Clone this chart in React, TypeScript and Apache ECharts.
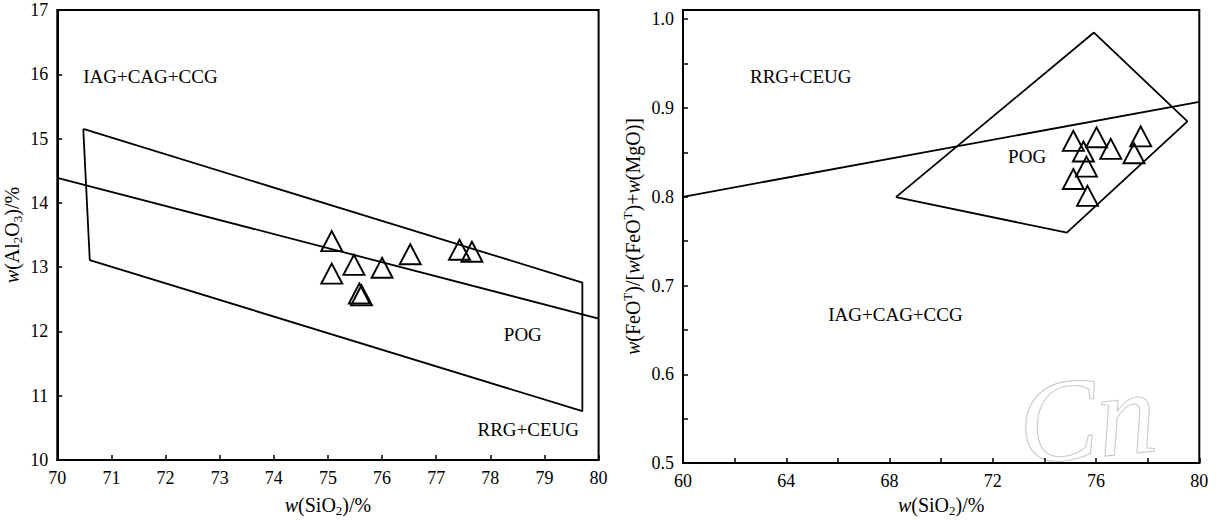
import React, { useEffect, useRef } from "react";
import * as echarts from "echarts";

// ---- Left diagram: Al2O3 vs SiO2 ----
const leftSiO2 = [75.07, 75.07, 75.48, 76.0, 75.58, 75.62, 76.52, 77.43, 77.66];
const leftAl2O3 = [13.405, 12.9, 13.035, 12.99, 12.59, 12.56, 13.2, 13.27, 13.24];
const leftPolyX = [70.48, 70.6, 79.7, 79.7, 70.48];
const leftPolyY = [15.15, 13.11, 10.76, 12.76, 15.15];
const leftLineX = [70, 80];
const leftLineY = [14.39, 12.2];
const leftLabelText = ["IAG+CAG+CCG", "POG", "RRG+CEUG"];
const leftLabelX = [71.72, 78.6, 78.7];
const leftLabelY = [15.96, 11.96, 10.47];

// ---- Right diagram: FeOT/(FeOT+MgO) vs SiO2 ----
const rightSiO2 = [75.12, 76.02, 76.57, 77.73, 77.47, 75.51, 75.63, 75.12, 75.67];
const rightRatio = [0.863, 0.867, 0.854, 0.868, 0.849, 0.851, 0.834, 0.82, 0.801];
const rightPolyX = [68.25, 75.92, 79.54, 74.87, 68.25];
const rightPolyY = [0.7996, 0.985, 0.885, 0.7596, 0.7996];
const rightLineX = [60, 80];
const rightLineY = [0.8, 0.907];
const rightLabelText = ["RRG+CEUG", "POG", "IAG+CAG+CCG"];
const rightLabelX = [64.56, 73.33, 68.23];
const rightLabelY = [0.9355, 0.845, 0.667];

const FONT = "Liberation Serif";
const zip = (xs: number[], ys: number[]) => xs.map((x, i) => [x, ys[i]]);

const richName = {
  i: { fontStyle: "italic", fontSize: 20, fontFamily: FONT, color: "#000", lineHeight: 24 },
  n: { fontSize: 20, fontFamily: FONT, color: "#000", lineHeight: 24 },
  sub: { fontSize: 13, fontFamily: FONT, color: "#000", lineHeight: 10, verticalAlign: "bottom" },
  sup: { fontSize: 13, fontFamily: FONT, color: "#000", lineHeight: 10, verticalAlign: "top" },
};

export default function App() {
  const ref = useRef<HTMLDivElement>(null);
  useEffect(() => {
    if (!ref.current) return;
    const chart = echarts.init(ref.current, undefined, { renderer: "svg" });
    const axisCommon = {
      axisLine: { show: true, onZero: false, lineStyle: { color: "#000", width: 2 } },
      axisTick: { show: true, inside: true, length: 5, lineStyle: { color: "#000", width: 1.5 } },
      splitLine: { show: false },
      axisLabel: { color: "#000", fontSize: 18, fontFamily: FONT },
      nameLocation: "middle",
      nameTextStyle: { rich: richName, fontFamily: FONT, fontSize: 20, color: "#000" },
    };
    const lineSeries = (xi: number, data: number[][]) => ({
      type: "line",
      xAxisIndex: xi,
      yAxisIndex: xi,
      data,
      showSymbol: false,
      symbol: "none",
      lineStyle: { color: "#000", width: 1.8 },
      silent: true,
    });
    const triSeries = (xi: number, data: number[][]) => ({
      type: "scatter",
      xAxisIndex: xi,
      yAxisIndex: xi,
      data,
      symbol: "triangle",
      symbolSize: [21, 20],
      itemStyle: { color: "rgba(0,0,0,0)", borderColor: "#000", borderWidth: 1.9, opacity: 1 },
      z: 5,
    });
    const labelSeries = (xi: number, xs: number[], ys: number[], texts: string[]) => ({
      type: "scatter",
      xAxisIndex: xi,
      yAxisIndex: xi,
      data: xs.map((x, i) => ({ value: [x, ys[i]], name: texts[i] })),
      symbolSize: 1,
      itemStyle: { color: "rgba(0,0,0,0)", opacity: 1 },
      label: {
        show: true,
        position: "inside",
        formatter: (p: any) => p.name,
        color: "#000",
        fontSize: 19,
        fontFamily: FONT,
      },
    });
    chart.setOption({
      animation: false,
      backgroundColor: "#fff",
      textStyle: { fontFamily: FONT },
      grid: [
        { left: 57.3, top: 10, width: 541.3, height: 454.3, show: true, borderColor: "#000", borderWidth: 2, backgroundColor: "transparent" },
        { left: 683, top: 10, width: 516.3, height: 454.3, show: true, borderColor: "#000", borderWidth: 2, backgroundColor: "transparent" },
      ],
      graphic: [
        {
          type: "text",
          left: 1012,
          top: 352,
          rotation: 0.1,
          silent: true,
          z: -1,
          style: {
            text: "Cn",
            font: "italic 118px 'Liberation Serif'",
            fill: "rgba(0,0,0,0)",
            stroke: "#cccccc",
            lineWidth: 1.1,
          },
        },
      ],
      xAxis: [
        {
          ...axisCommon,
          type: "value",
          gridIndex: 0,
          min: 70,
          max: 80,
          interval: 1,
          axisLabel: { ...axisCommon.axisLabel, margin: 9 },
          name: "{i|w}{n|(SiO}{sub|2}{n|)/%}",
          nameGap: 33,
        },
        {
          ...axisCommon,
          type: "value",
          gridIndex: 1,
          min: 60,
          max: 80,
          interval: 2,
          axisLabel: {
            ...axisCommon.axisLabel,
            margin: 9,
            formatter: (v: number) => (Math.round(v) % 4 === 0 ? String(Math.round(v)) : ""),
          },
          name: "{i|w}{n|(SiO}{sub|2}{n|)/%}",
          nameGap: 28,
        },
      ],
      yAxis: [
        {
          ...axisCommon,
          type: "value",
          gridIndex: 0,
          min: 10,
          max: 17,
          interval: 1,
          axisLabel: { ...axisCommon.axisLabel, margin: 9 },
          name: "{i|w}{n|(Al}{sub|2}{n|O}{sub|3}{n|)/%}",
          nameGap: 33,
        },
        {
          ...axisCommon,
          type: "value",
          gridIndex: 1,
          min: 0.5,
          max: 1.0104,
          interval: 0.05,
          axisLabel: {
            ...axisCommon.axisLabel,
            margin: 9,
            formatter: (v: number) => (Math.round(v * 100) % 10 === 0 ? v.toFixed(1) : ""),
          },
          name: "{i|w}{n|(FeO}{sup|T}{n|)/[}{i|w}{n|(FeO}{sup|T}{n|)+}{i|w}{n|(MgO)]}",
          nameGap: 38,
        },
      ],
      series: [
        lineSeries(0, zip(leftPolyX, leftPolyY)),
        lineSeries(0, zip(leftLineX, leftLineY)),
        triSeries(0, zip(leftSiO2, leftAl2O3)),
        labelSeries(0, leftLabelX, leftLabelY, leftLabelText),
        lineSeries(1, zip(rightPolyX, rightPolyY)),
        lineSeries(1, zip(rightLineX, rightLineY)),
        triSeries(1, zip(rightSiO2, rightRatio)),
        labelSeries(1, rightLabelX, rightLabelY, rightLabelText),
      ],
    });
    return () => chart.dispose();
  }, []);
  return (
    <div
      ref={ref}
      style={{ position: "fixed", left: 0, top: 0, width: 1218, height: 522, background: "#fff" }}
    />
  );
}
